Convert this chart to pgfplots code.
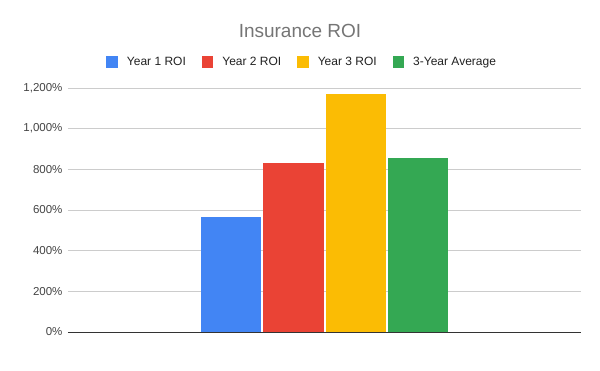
\documentclass[border=0pt]{standalone}
\usepackage{pgfplots}
\pgfplotsset{compat=1.18}
\usepackage{fontspec}
\setmainfont{Liberation Sans}
\definecolor{gblue}{HTML}{4285F4}
\definecolor{gred}{HTML}{EA4335}
\definecolor{gyellow}{HTML}{FBBC04}
\definecolor{ggreen}{HTML}{34A853}
\definecolor{gridc}{HTML}{CCCCCC}
\definecolor{ticktext}{HTML}{444444}
\definecolor{titletext}{HTML}{757575}
\definecolor{legtext}{HTML}{222222}
\begin{document}
\begin{tikzpicture}
\useasboundingbox (-68pt,-39pt) rectangle (532pt,332pt);
\begin{axis}[
  at={(0pt,0pt)}, anchor=south west,
  scale only axis, width=513pt, height=244pt,
  ybar=2pt, bar width=60pt,
  xmin=-1, xmax=1, ymin=0, ymax=1200,
  xtick=\empty,
  ytick={0,200,400,600,800,1000,1200},
  yticklabels={0\%,200\%,400\%,600\%,800\%,{1,000\%},{1,200\%}},
  ymajorgrids, grid style={gridc, line width=0.8pt},
  axis line style={draw=none},
  major tick length=0pt,
  tick label style={font=\fontsize{11.5}{13}\selectfont, text=ticktext},
  yticklabel style={xshift=-2pt},
  legend style={draw=none, at={(0.439,1.107)}, anchor=center,
    legend columns=4, font=\fontsize{12}{14}\selectfont, text=legtext,
    column sep=0pt, nodes={inner sep=0pt},
    /tikz/every odd column/.style={column sep=0pt},
    /tikz/every even column/.style={column sep=0pt}},
  legend image code/.code={\path[draw=none,fill=none] (-16pt,0pt) rectangle (20.5pt,0.1pt);\fill[#1,draw=none] (0pt,-5.75pt) rectangle (11.5pt,5.75pt);},
  clip=false,
]
\addplot[fill=gblue, draw=none] coordinates {(0,567)};
\addplot[fill=gred, draw=none] coordinates {(0,833)};
\addplot[fill=gyellow, draw=none] coordinates {(0,1168)};
\addplot[fill=ggreen, draw=none] coordinates {(0,856)};
\legend{Year 1 ROI, Year 2 ROI, Year 3 ROI, 3-Year Average}
\draw[color=black!80, line width=0.9pt] (rel axis cs:0,0) -- (rel axis cs:1,0);
\end{axis}
\node[text=titletext, font=\fontsize{19}{22}\selectfont] at (232pt,301pt) {Insurance ROI};
\end{tikzpicture}
\end{document}
